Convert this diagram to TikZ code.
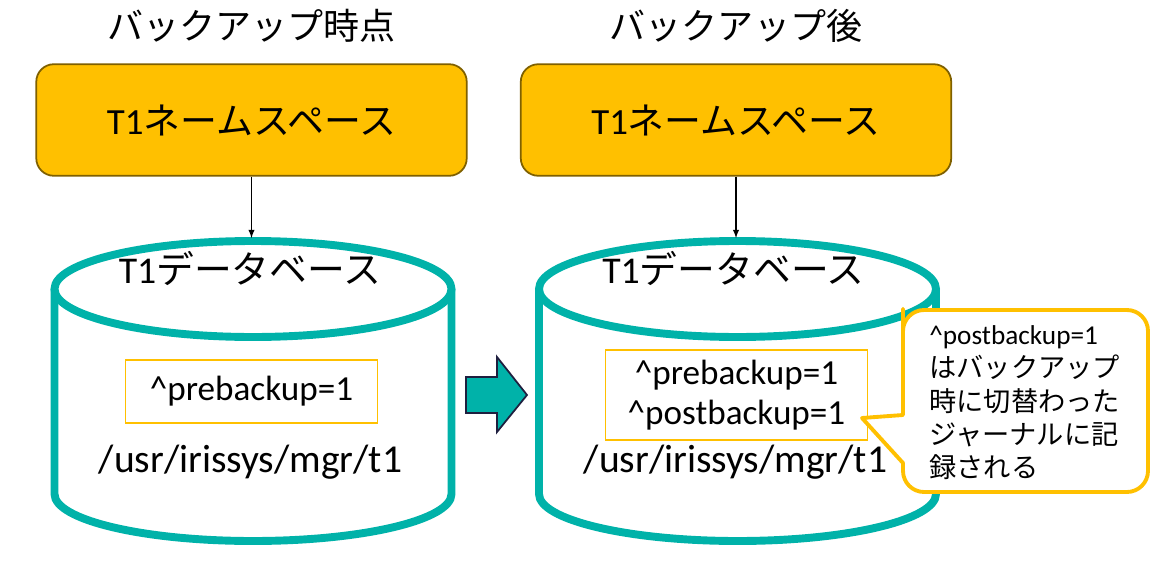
\documentclass[tikz,border=0pt]{standalone}
\usepackage{fontspec}
\setmainfont{Carlito}
\newfontfamily\jpfont{Noto Sans CJK JP}
\usetikzlibrary{positioning,arrows}

\definecolor{nsfill}{HTML}{FFC000}
\definecolor{nsline}{HTML}{7F6000}
\definecolor{dbline}{HTML}{00B2A9}
\definecolor{arrline}{HTML}{1F1F3F}

\tikzset{
  title/.style={font=\jpfont\fontsize{20.5}{24}\selectfont},
  nsbox/.style={draw=nsline, fill=nsfill, line width=1pt, rounded corners=10pt,
    minimum width=245pt, minimum height=63.5pt, font=\fontsize{21}{24}\selectfont},
  dbwall/.style={draw=dbline, line width=4.5pt},
  dblabel/.style={font=\fontsize{21.5}{24}\selectfont},
  flagbox/.style={draw=nsfill, line width=1pt, align=center, inner sep=0pt,
    font=\fontsize{20}{23}\selectfont},
  pathlabel/.style={font=\fontsize{22.5}{26}\selectfont},
  conn/.style={-latex, line width=0.6pt},
  notebox/.style={draw=nsfill, fill=white, line width=2.2pt, line join=round},
  notetext/.style={align=left, inner sep=0pt, font=\jpfont\fontsize{15.5}{19}\selectfont}
}

\begin{document}
\begin{tikzpicture}[x=0.02cm, y=-0.02cm]
\useasboundingbox (0,0) rectangle (1170,578);

% namespaces
\node[nsbox] (ns1) at (251.5,120) {T1{\jpfont ネームスペース}};
\node[nsbox] (ns2) at (736,120) {T1{\jpfont ネームスペース}};
\node[title, above=8.5pt of ns1] (title1) {バックアップ時点};
\node[title, above=8.5pt of ns2] (title2) {バックアップ後};

% databases
\foreach \cx in {253, 737.5} {
  \draw[dbwall] (\cx,289) ellipse (198.5 and 48);
  \draw[dbwall] ({\cx-198.5},289) -- ({\cx-198.5},494)
    arc[start angle=180, end angle=0, x radius=198.5, y radius=47] -- ({\cx+198.5},289);
}
\coordinate (db1top) at (251.5,238);
\coordinate (db2top) at (736,238);
\draw[conn] (ns1) -- (db1top);
\draw[conn] (ns2) -- (db2top);

\node[dblabel] (db1) at (250,268) {T1{\jpfont データベース}};
\node[dblabel] (db2) at (733.5,268) {T1{\jpfont データベース}};

\node[flagbox, minimum width=143.4pt, minimum height=35.7pt] (flag1) at (251.5,391.5)
  {\textasciicircum prebackup=1};
\node[flagbox, minimum width=149pt, minimum height=51pt] (flag2) at (736.5,395)
  {\textasciicircum prebackup=1\\\textasciicircum postbackup=1};

\node[pathlabel] (dir1) at (250.5,462) {/usr/irissys/mgr/t1};
\node[pathlabel] (dir2) at (735.5,462) {/usr/irissys/mgr/t1};

% block arrow
\draw[fill=dbline, draw=arrline, line width=1pt, line join=miter]
  (466,377) -- (497,377) -- (497,357) -- (527,395) -- (497,432) -- (497,413) -- (466,413) -- cycle;

% callout
\draw[notebox] (862,418) -- (903,463) -- (903,470) [rounded corners=12pt] -- (903,492)
  -- (1148,492) -- (1148,310) -- (903,310) -- (903,330) [sharp corners] -- (903,415) -- cycle;
\node[notetext, anchor=north west] (note) at (929,325)
  {{\rmfamily\textasciicircum postbackup=1}\\はバックアップ\\時に切替わった\\ジャーナルに記\\録される};
\end{tikzpicture}
\end{document}
